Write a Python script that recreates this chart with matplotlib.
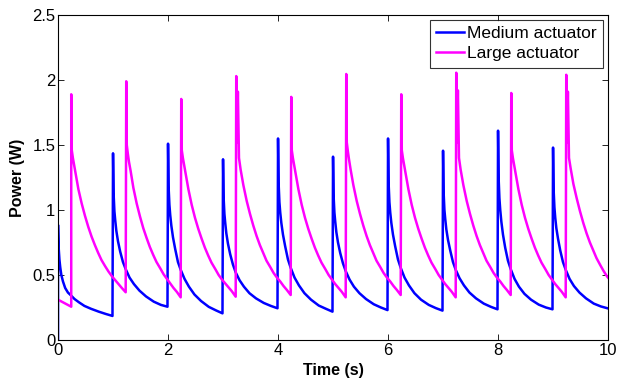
import matplotlib
matplotlib.use('Agg')
import matplotlib.pyplot as plt
import matplotlib.ticker as mtick

plt.rcParams['font.family'] = ['Liberation Sans', 'DejaVu Sans']

# Medium actuator: spike at each whole second, then decay
medium_spike_times = [0, 1, 2, 3, 4, 5, 6, 7, 8, 9]
medium_offsets = [0, 0.01, 0.025, 0.04, 0.06, 0.09, 0.13, 0.18, 0.23, 0.30,
                  0.38, 0.48, 0.60, 0.74, 0.87, 0.99]
medium_cycles = [
    [0.885, 0.72, 0.62, 0.56, 0.50, 0.45, 0.40, 0.365, 0.345, 0.315, 0.29, 0.262, 0.24, 0.218, 0.20, 0.185],
    [1.436, 1.13, 0.99, 0.92, 0.84, 0.76, 0.68, 0.60, 0.545, 0.48, 0.43, 0.38, 0.335, 0.295, 0.27, 0.256],
    [1.51, 1.18, 1.04, 0.96, 0.88, 0.79, 0.70, 0.60, 0.54, 0.47, 0.41, 0.35, 0.30, 0.255, 0.228, 0.205],
    [1.39, 1.10, 0.97, 0.90, 0.82, 0.74, 0.66, 0.58, 0.52, 0.46, 0.41, 0.36, 0.32, 0.285, 0.262, 0.244],
    [1.55, 1.21, 1.06, 0.98, 0.90, 0.81, 0.72, 0.62, 0.555, 0.48, 0.42, 0.36, 0.31, 0.265, 0.24, 0.218],
    [1.41, 1.11, 0.98, 0.91, 0.83, 0.75, 0.67, 0.59, 0.53, 0.465, 0.41, 0.36, 0.315, 0.275, 0.25, 0.23],
    [1.55, 1.21, 1.06, 0.98, 0.90, 0.81, 0.72, 0.62, 0.555, 0.48, 0.42, 0.36, 0.31, 0.27, 0.245, 0.226],
    [1.456, 1.14, 1.00, 0.93, 0.85, 0.77, 0.69, 0.60, 0.54, 0.475, 0.42, 0.365, 0.32, 0.28, 0.255, 0.236],
    [1.61, 1.25, 1.09, 1.00, 0.91, 0.81, 0.71, 0.61, 0.545, 0.47, 0.41, 0.355, 0.31, 0.272, 0.25, 0.236],
    [1.48, 1.16, 1.02, 0.94, 0.86, 0.78, 0.69, 0.60, 0.54, 0.47, 0.415, 0.365, 0.32, 0.28, 0.258, 0.244],
]
medium_lead_t = [0.0]
medium_lead_v = [0.0]

# Large actuator: spike a quarter second later each cycle
large_lead_t = [0.0, 0.24]
large_lead_v = [0.31, 0.256]
large_spike_times = [0.24, 1.24, 2.24, 3.24, 4.24, 5.24, 6.24, 7.24, 8.24, 9.24]
large_offsets = [0, 0.01, 0.03, 0.05, 0.08, 0.13, 0.19, 0.25, 0.31, 0.37,
                 0.43, 0.49, 0.55, 0.62, 0.68, 0.74, 0.80, 0.86, 0.92, 0.99]
large_cycles = [
    [1.89, 1.46, 1.40, 1.35, 1.28, 1.16, 1.05, 0.955, 0.87, 0.795, 0.73, 0.67, 0.615, 0.565, 0.525, 0.49, 0.46, 0.43, 0.40, 0.367],
    [1.99, 1.50, 1.43, 1.37, 1.30, 1.17, 1.05, 0.95, 0.86, 0.785, 0.715, 0.655, 0.60, 0.55, 0.505, 0.47, 0.435, 0.40, 0.37, 0.328],
    [1.854, 1.46, 1.40, 1.35, 1.28, 1.16, 1.04, 0.94, 0.855, 0.78, 0.71, 0.65, 0.595, 0.545, 0.50, 0.465, 0.435, 0.405, 0.375, 0.333],
    [2.03, 1.52, 1.91, 1.40, 1.31, 1.19, 1.07, 0.97, 0.88, 0.80, 0.73, 0.67, 0.61, 0.56, 0.515, 0.48, 0.45, 0.415, 0.385, 0.346],
    [1.87, 1.46, 1.40, 1.35, 1.28, 1.16, 1.04, 0.94, 0.855, 0.78, 0.71, 0.65, 0.595, 0.545, 0.50, 0.465, 0.43, 0.40, 0.37, 0.328],
    [2.046, 1.52, 1.45, 1.39, 1.31, 1.19, 1.07, 0.97, 0.88, 0.80, 0.73, 0.67, 0.61, 0.56, 0.515, 0.48, 0.45, 0.415, 0.385, 0.346],
    [1.89, 1.46, 1.40, 1.35, 1.28, 1.16, 1.04, 0.94, 0.855, 0.78, 0.71, 0.65, 0.595, 0.545, 0.50, 0.465, 0.43, 0.40, 0.37, 0.328],
    [2.056, 1.52, 1.92, 1.40, 1.31, 1.19, 1.07, 0.97, 0.88, 0.80, 0.73, 0.67, 0.61, 0.56, 0.515, 0.48, 0.45, 0.415, 0.385, 0.346],
    [1.90, 1.46, 1.40, 1.35, 1.28, 1.16, 1.04, 0.94, 0.855, 0.78, 0.71, 0.65, 0.595, 0.545, 0.50, 0.465, 0.43, 0.40, 0.37, 0.328],
    [2.04, 1.52, 1.91, 1.40, 1.32, 1.20, 1.09, 0.99, 0.90, 0.82, 0.75, 0.69, 0.63, 0.575, 0.53, 0.49, 0.46, 0.43, 0.40, 0.36],
]

x_ticks = [0, 2, 4, 6, 8, 10]
y_ticks = [0, 0.5, 1, 1.5, 2, 2.5]


def build_series(start_t, start_v, spikes, offsets, cycles):
    t, v = list(start_t), list(start_v)
    for s, vals in zip(spikes, cycles):
        for o, val in zip(offsets, vals):
            t.append(s + o)
            v.append(val)
    return t, v


med_t, med_v = build_series(medium_lead_t, medium_lead_v, medium_spike_times, medium_offsets, medium_cycles)
lrg_t, lrg_v = build_series(large_lead_t, large_lead_v, large_spike_times, large_offsets, large_cycles)

fig = plt.figure(figsize=(6.18, 3.83), dpi=100)
ax = fig.add_axes([0.0939, 0.1123, 0.89, 0.8486])

ax.plot(med_t, med_v, color='#0000FF', lw=1.8, label='Medium actuator')
ax.plot(lrg_t, lrg_v, color='#FF00FF', lw=1.8, label='Large actuator')

ax.set_xlim(0, 10)
ax.set_ylim(0, 2.5)
ax.set_xticks(x_ticks)
ax.set_yticks(y_ticks)
ax.yaxis.set_major_formatter(mtick.FormatStrFormatter('%g'))
ax.tick_params(direction='in', top=True, right=True, length=4, width=0.6, labelsize=12, pad=2)
for sp in ax.spines.values():
    sp.set_linewidth(0.8)

ax.set_xlabel('Time (s)', fontsize=11.5, fontweight='bold', labelpad=4)
ax.set_ylabel('Power (W)', fontsize=11.5, fontweight='bold', labelpad=5)

leg = ax.legend(loc='upper right', fontsize=12.5, frameon=True, fancybox=False,
                handlelength=1.6, handletextpad=0.2, borderpad=0.35,
                labelspacing=0.28, borderaxespad=0.3)
leg.get_frame().set_edgecolor('black')
leg.get_frame().set_linewidth(0.8)

fig.savefig('out.png', dpi=100)
